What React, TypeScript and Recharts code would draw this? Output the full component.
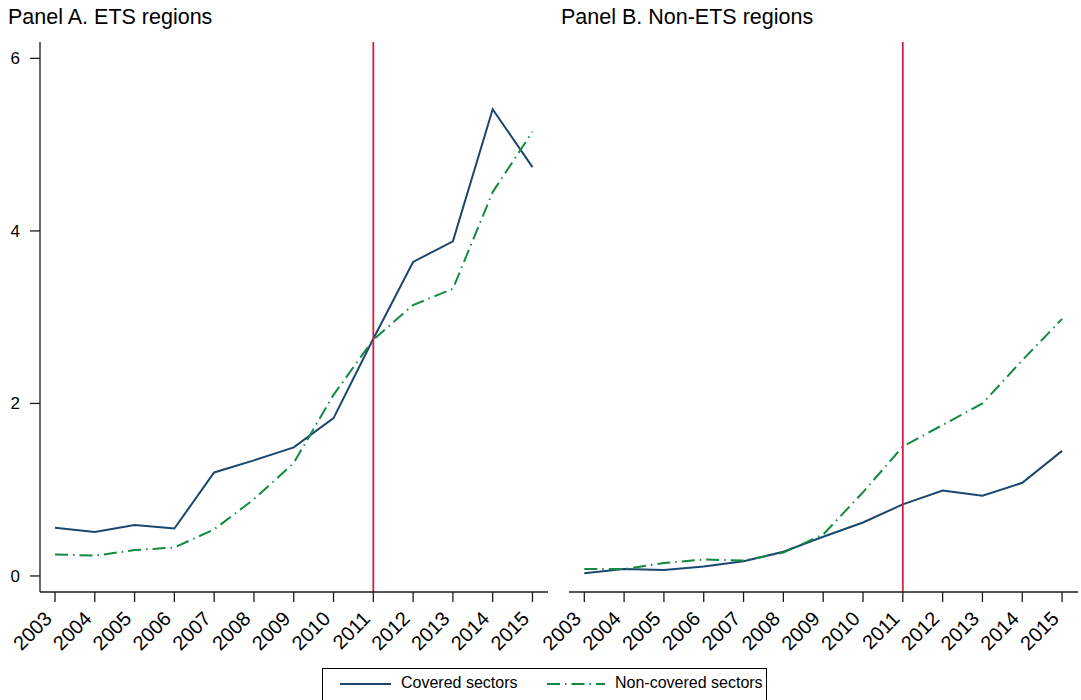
import React from "react";
import { Line, LineChart, ReferenceLine, XAxis, YAxis } from "recharts";

const years = [2003, 2004, 2005, 2006, 2007, 2008, 2009, 2010, 2011, 2012, 2013, 2014, 2015];

// Panel A: ETS regions
const etsCovered = [0.56, 0.51, 0.59, 0.55, 1.2, 1.34, 1.49, 1.83, 2.75, 3.64, 3.88, 5.41, 4.74];
const etsNonCovered = [0.25, 0.235, 0.3, 0.33, 0.54, 0.89, 1.31, 2.1, 2.74, 3.14, 3.33, 4.45, 5.15];

// Panel B: non-ETS regions
const nonEtsCovered = [0.03, 0.08, 0.07, 0.11, 0.17, 0.28, 0.455, 0.62, 0.83, 0.99, 0.93, 1.08, 1.45];
const nonEtsNonCovered = [0.08, 0.08, 0.15, 0.19, 0.18, 0.27, 0.48, 0.97, 1.5, 1.75, 2.0, 2.5, 2.98];

const yTicks = [0, 2, 4, 6];
const policyYear = 2011;

const series = [
  { key: "covered", name: "Covered sectors", color: "#1a476f", dash: undefined },
  { key: "nonCovered", name: "Non-covered sectors", color: "#138a3f", dash: "13 5 1.5 5" },
];

const FONT = '"Liberation Sans", Arial, Helvetica, sans-serif';
const AXIS = "#1a1a1a";
const Y_DOMAIN: [number, number] = [-0.186, 6.19];

function rows(covered: number[], nonCovered: number[]) {
  return years.map((year, i) => ({ year, covered: covered[i], nonCovered: nonCovered[i] }));
}

const YearTick = (props: any) => {
  const { x, y, payload } = props;
  return (
    <g transform={`translate(${x - 2},${y + 16})`}>
      <text textAnchor="end" transform="rotate(-45)" fontSize={20} fill="#000" fontFamily={FONT}>
        {payload.value}
      </text>
    </g>
  );
};

function Panel({
  data,
  width,
  height,
  margin,
  domain,
  showY,
}: {
  data: { year: number; covered: number; nonCovered: number }[];
  width: number;
  height: number;
  margin: { top: number; right: number; left: number; bottom: number };
  domain: [number, number];
  showY: boolean;
}) {
  return (
    <LineChart width={width} height={height} data={data} margin={margin}>
      <XAxis
        dataKey="year"
        type="number"
        domain={domain}
        allowDataOverflow
        ticks={years}
        interval={0}
        height={68}
        tickSize={10}
        stroke={AXIS}
        strokeWidth={1.3}
        tick={<YearTick />}
      />
      <YAxis
        hide={!showY}
        width={40}
        domain={Y_DOMAIN}
        allowDataOverflow
        ticks={yTicks}
        tickSize={10}
        tickMargin={10}
        stroke={AXIS}
        strokeWidth={1.3}
        tick={{ fontSize: 17, fill: "#000", fontFamily: FONT }}
      />
      {series.map((s) => (
        <Line
          key={s.key}
          dataKey={s.key}
          type="linear"
          stroke={s.color}
          strokeWidth={2}
          strokeDasharray={s.dash}
          dot={false}
          isAnimationActive={false}
        />
      ))}
      <ReferenceLine x={policyYear} stroke="#d2203e" strokeWidth={1.8} />
    </LineChart>
  );
}

export default function App() {
  return (
    <div
      style={{
        position: "absolute",
        left: 0,
        top: 0,
        width: 1081,
        height: 700,
        overflow: "hidden",
        background: "#fff",
        fontFamily: FONT,
      }}
    >
      <div style={{ position: "absolute", left: 8, top: 7, fontSize: 21.5, lineHeight: 1, color: "#000" }}>
        Panel A. ETS regions
      </div>
      <div style={{ position: "absolute", left: 561, top: 7, fontSize: 21.5, lineHeight: 1, color: "#000" }}>
        Panel B. Non-ETS regions
      </div>

      <div style={{ position: "absolute", left: 0, top: 0 }}>
        <Panel
          data={rows(etsCovered, etsNonCovered)}
          width={560}
          height={660}
          margin={{ top: 42, right: 12, left: 0, bottom: 0 }}
          domain={[2002.623, 2015.39]}
          showY
        />
      </div>
      <div style={{ position: "absolute", left: 500, top: 0 }}>
        <Panel
          data={rows(nonEtsCovered, nonEtsNonCovered)}
          width={581}
          height={660}
          margin={{ top: 42, right: 3, left: 69, bottom: 0 }}
          domain={[2002.616, 2015.4]}
          showY={false}
        />
      </div>

      <div
        style={{
          position: "absolute",
          left: 322,
          top: 668,
          width: 445,
          height: 45,
          border: "1px solid #000",
          boxSizing: "border-box",
        }}
      >
        {series.map((s, i) => {
          const sampleLeft = i === 0 ? 17 : 224;
          const sampleWidth = i === 0 ? 51 : 58;
          return (
            <React.Fragment key={s.key}>
              <svg
                width={sampleWidth}
                height={4}
                style={{ position: "absolute", left: sampleLeft, top: 13 }}
              >
                <line x1={0} y1={2} x2={sampleWidth} y2={2} stroke={s.color} strokeWidth={2} strokeDasharray={s.dash} />
              </svg>
              <div
                style={{
                  position: "absolute",
                  left: sampleLeft + sampleWidth + 10,
                  top: 6,
                  fontSize: 16,
                  lineHeight: 1,
                  whiteSpace: "nowrap",
                  color: "#000",
                }}
              >
                {s.name}
              </div>
            </React.Fragment>
          );
        })}
      </div>
    </div>
  );
}
